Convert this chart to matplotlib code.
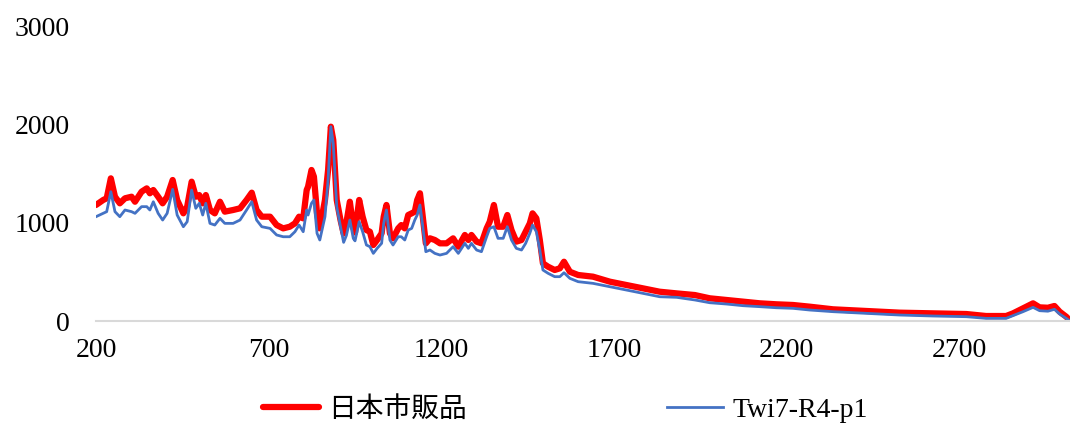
import matplotlib
matplotlib.use("Agg")
import matplotlib.pyplot as plt

plt.rcParams['font.family'] = ['Liberation Serif', 'Noto Sans CJK JP']

# ラマンシフト (cm-1)
wavenumber = [
    200, 221, 231, 243, 255, 269, 284, 303, 313, 332, 347, 356, 366, 380, 393,
    406, 422, 435, 453, 464, 477, 489, 499, 509, 518, 530, 544, 559, 573, 597,
    617, 636, 651, 665, 680, 704, 723, 742, 761, 776, 788, 800, 810, 814, 824,
    831, 840, 848, 863, 872, 880, 887, 897, 908, 917, 925, 935, 945, 950, 962,
    972, 983, 993, 1003, 1014, 1027, 1033, 1041, 1051, 1060, 1075, 1084, 1094,
    1104, 1114, 1123, 1130, 1138, 1145, 1155, 1167, 1181, 1196, 1215, 1234,
    1249, 1268, 1278, 1287, 1302, 1316, 1331, 1340, 1352, 1364, 1379, 1391,
    1403, 1417, 1432, 1444, 1456, 1464, 1475, 1485, 1494, 1509, 1528, 1543,
    1555, 1572, 1596, 1639, 1688, 1736, 1784, 1832, 1881, 1934, 1977, 2025,
    2073, 2122, 2170, 2218, 2266, 2334, 2430, 2527, 2623, 2720, 2777, 2835,
    2855, 2884, 2913, 2932, 2956, 2975, 2990, 3009, 3020,
]

# 日本市販品
commercial = [
    1180, 1231, 1248, 1451, 1264, 1197, 1248, 1264, 1213, 1315, 1349, 1299,
    1332, 1264, 1197, 1264, 1434, 1231, 1095, 1163, 1417, 1264, 1281, 1197,
    1281, 1129, 1095, 1213, 1112, 1129, 1146, 1231, 1305, 1129, 1061, 1061,
    976, 942, 959, 993, 1061, 1044, 1332, 1366, 1536, 1468, 1095, 942, 1231,
    1536, 1976, 1841, 1231, 1027, 890, 1000, 1213, 950, 900, 1231,
    1061, 925, 908, 773, 824, 892, 1061, 1180, 892, 841, 942, 976, 942,
    1078, 1095, 1112, 1231, 1299, 1095, 790, 841, 824, 790, 790, 841,
    756, 875, 824, 875, 807, 790, 942, 1010, 1180, 959, 959, 1078,
    925, 807, 824, 908, 993, 1095, 1044, 824, 587, 552, 519, 536,
    603, 501, 468, 451, 400, 366, 332, 298, 281, 264, 231, 214,
    196, 180, 170, 163, 146, 119, 102, 85, 78, 71, 51, 51,
    78, 129, 180, 139, 135, 153, 95, 44, 5,
]

# Twi7-R4-p1
sample = [
    1061, 1095, 1112, 1315, 1112, 1061, 1129, 1112, 1095, 1163, 1163, 1129,
    1213, 1095, 1027, 1095, 1339, 1078, 959, 1010, 1332, 1146, 1197, 1078,
    1197, 993, 976, 1044, 993, 993, 1027, 1129, 1213, 1027, 959, 942,
    875, 857, 857, 908, 976, 908, 1129, 1078, 1197, 1231, 892, 824, 1061,
    1434, 1976, 1807, 1163, 959, 800, 870, 1027, 840, 815, 1010,
    908, 773, 756, 688, 739, 790, 993, 1129, 824, 773, 857, 857, 824,
    925, 942, 1027, 1078, 1180, 993, 705, 722, 688, 671, 688, 756,
    688, 790, 739, 790, 722, 705, 857, 942, 959, 841, 841, 959,
    824, 739, 722, 790, 892, 976, 908, 722, 519, 485, 451, 451,
    491, 434, 400, 383, 349, 315, 281, 247, 241, 214, 186, 173,
    156, 146, 135, 129, 112, 95, 78, 61, 51, 44, 27, 27,
    55, 95, 139, 105, 100, 119, 71, 27, 0,
]

x_ticks = [200, 700, 1200, 1700, 2200, 2700]
y_ticks = [0, 1000, 2000, 3000]

fig = plt.figure(figsize=(10.7, 4.32), dpi=100)
ax = fig.add_axes([0.0897, 0.2569, 0.9103, 0.6829])

ax.plot(wavenumber, commercial, color='#FF0000', lw=4.5,
        solid_joinstyle='round', solid_capstyle='round', label='日本市販品')
ax.plot(wavenumber, sample, color='#4472C4', lw=2.0,
        solid_joinstyle='round', label='Twi7-R4-p1')

ax.set_xlim(200, 3020)
ax.set_ylim(0, 3000)
ax.set_xticks(x_ticks)
ax.set_yticks(y_ticks)
ax.tick_params(axis='both', length=0, labelsize=20, colors='black')
ax.tick_params(axis='y', pad=19)
ax.tick_params(axis='x', pad=12)

for side in ['top', 'right', 'left']:
    ax.spines[side].set_visible(False)
ax.spines['bottom'].set_color('#D9D9D9')
ax.spines['bottom'].set_linewidth(1.5)

fig.legend(loc='center', bbox_to_anchor=(0.5285, 0.051), ncol=2,
           frameon=False, fontsize=20, handlelength=2.0, handletextpad=0.35,
           columnspacing=7.2)

fig.savefig('out.png', dpi=100)
